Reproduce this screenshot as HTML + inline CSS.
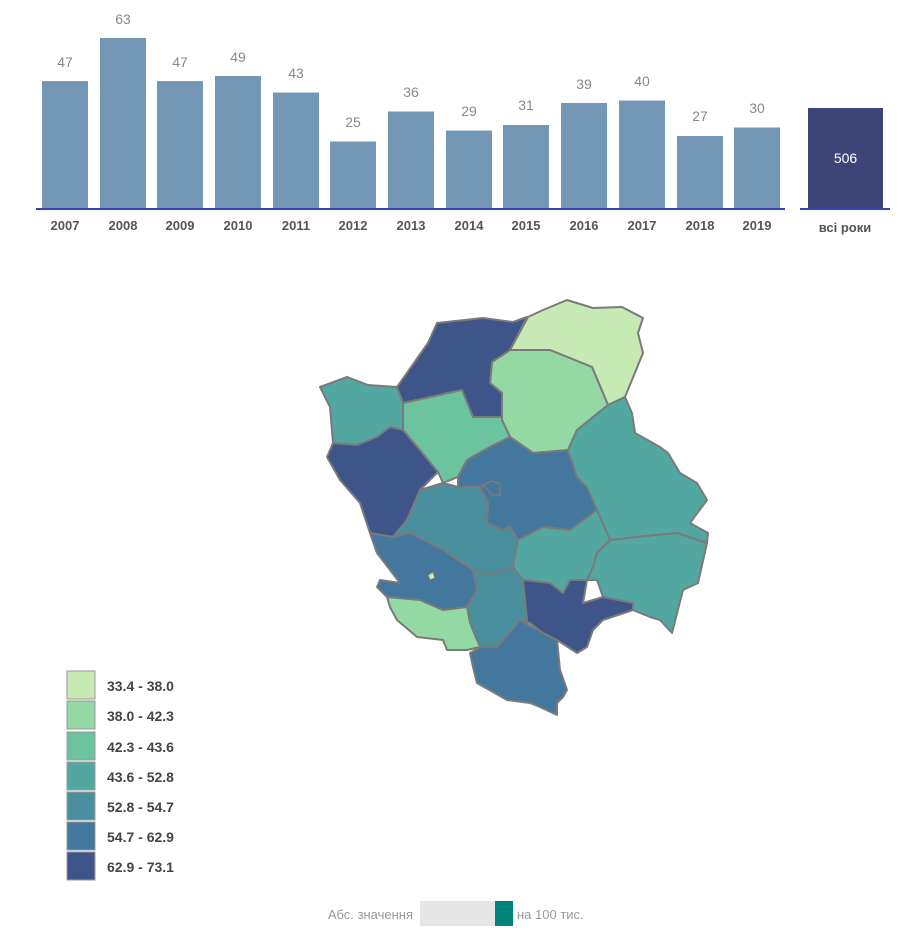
<!DOCTYPE html>
<html><head><meta charset="utf-8"><style>
body{margin:0;background:#fff;width:917px;height:930px;overflow:hidden;font-family:"Liberation Sans",sans-serif}
</style></head><body>
<svg width="917" height="930" xmlns="http://www.w3.org/2000/svg" style="position:absolute;left:0;top:0">
<g fill="#7496b5">
<rect x="42" y="81.1" width="46" height="127.9"/>
<rect x="100" y="38" width="46" height="171"/>
<rect x="157" y="81.1" width="46" height="127.9"/>
<rect x="215" y="76" width="46" height="133"/>
<rect x="273" y="92.5" width="46" height="116.5"/>
<rect x="330" y="141.5" width="46" height="67.5"/>
<rect x="388" y="111.5" width="46" height="97.5"/>
<rect x="446" y="130.5" width="46" height="78.5"/>
<rect x="503" y="125" width="46" height="84"/>
<rect x="561" y="103" width="46" height="106"/>
<rect x="619" y="100.5" width="46" height="108.5"/>
<rect x="677" y="136" width="46" height="73"/>
<rect x="734" y="127.5" width="46" height="81.5"/>
</g>
<rect x="808" y="108" width="75" height="101" fill="#3d4478"/>
<text x="845.5" y="163" fill="#fff" font-size="14" text-anchor="middle">506</text>
<line x1="36" y1="209" x2="785" y2="209" stroke="#3646b0" stroke-width="2"/>
<line x1="800" y1="209" x2="890" y2="209" stroke="#3646b0" stroke-width="2"/>
<g fill="#888" font-size="14" text-anchor="middle">
<text x="65" y="67">47</text><text x="123" y="24">63</text><text x="180" y="67">47</text><text x="238" y="62">49</text><text x="296" y="78">43</text><text x="353" y="127">25</text><text x="411" y="97">36</text><text x="469" y="116">29</text><text x="526" y="110">31</text><text x="584" y="89">39</text><text x="642" y="86">40</text><text x="700" y="121">27</text><text x="757" y="113">30</text>
</g>
<g fill="#555" font-size="13" font-weight="bold" text-anchor="middle">
<text x="65" y="230">2007</text><text x="123" y="230">2008</text><text x="180" y="230">2009</text><text x="238" y="230">2010</text><text x="296" y="230">2011</text><text x="353" y="230">2012</text><text x="411" y="230">2013</text><text x="469" y="230">2014</text><text x="526" y="230">2015</text><text x="584" y="230">2016</text><text x="642" y="230">2017</text><text x="700" y="230">2018</text><text x="757" y="230">2019</text>
<text x="845" y="232">всі роки</text>
</g>
<g stroke="#7a7a7a" stroke-width="2" stroke-linejoin="round">
<polygon fill="#c7eab4" points="528,317 543,310 567,300 593,308 622,307 643,318 638,333 643,353 625,397 608,405 592,367 550,350 530,350 510,350"/>
<polygon fill="#94d8a3" points="510,350 530,350 550,350 592,367 608,405 577,430 568,450 533,453 510,437 502,420 502,393 490,383 492,362"/>
<polygon fill="#3d5589" points="437,323 483,318 513,322 527,317 510,350 492,362 490,383 502,393 502,417 473,417 462,390 403,403 397,387 428,343"/>
<polygon fill="#52a8a1" points="320,387 347,377 368,385 397,387 403,403 403,430 390,427 377,437 357,445 333,443 330,407"/>
<polygon fill="#3d5589" points="333,443 357,445 377,437 390,427 403,430 420,450 438,472 420,490 407,520 393,537 370,533 360,503 340,480 327,457"/>
<polygon fill="#6cc3a0" points="403,403 462,390 473,417 502,417 502,420 510,437 490,447 467,460 458,477 443,483 438,472 420,450 403,430"/>
<polygon fill="#43779d" points="490,447 510,437 533,453 568,450 577,477 587,487 597,510 570,530 543,527 518,540 510,527 502,530 487,523 488,503 480,487 458,487 458,477 467,460"/>
<polygon fill="#4a8f9e" points="443,483 458,487 480,487 488,503 487,523 502,530 510,527 518,540 513,567 492,575 473,570 443,550 410,533 393,537 407,520 420,490"/>
<polygon fill="#52a8a1" points="608,405 625,397 632,413 635,433 660,447 668,453 680,473 697,483 707,500 690,523 708,533 707,543 677,533 637,537 610,540 597,510 587,487 577,477 568,450 577,430"/>
<polygon fill="#52a8a1" points="610,540 637,537 677,533 707,543 698,583 683,590 672,633 660,620 650,617 633,610 633,603 603,597 597,580 587,580 593,567 597,553"/>
<polygon fill="#52a8a1" points="513,567 518,540 543,527 570,530 597,510 610,540 597,553 593,567 587,580 577,583 563,593 550,583 523,580"/>
<polygon fill="#3d5589" points="523,580 550,583 563,593 570,580 587,580 583,603 603,597 633,603 633,610 603,620 593,630 587,647 577,653 557,640 543,633 530,623 520,620"/>
<polygon fill="#43779d" points="470,653 480,647 497,647 520,620 543,633 557,640 560,670 567,690 563,697 557,703 557,715 540,707 530,703 507,700 477,683 473,667"/>
<polygon fill="#4a8f9e" points="473,570 492,575 513,567 523,580 527,620 520,620 497,647 480,647 470,623 467,607 477,590"/>
<polygon fill="#43779d" points="370,533 393,537 410,533 443,550 473,570 477,590 467,607 443,610 420,600 387,597 377,587 380,580 400,583 377,553"/>
<polygon fill="#94d8a3" points="387,597 420,600 443,610 467,607 470,623 480,647 467,650 447,650 443,640 417,637 397,620 390,607"/>
<polygon fill="#43779d" points="482,485 492,481 500,484 500,495 492,495 488,490" stroke-width="1.5"/>
<polygon fill="#c7eab4" points="428,575 433,572 435,578 430,580" stroke-width="1"/>
</g>
<g font-size="14" font-weight="bold" fill="#444">
<rect x="67" y="671" width="28" height="28" fill="#c7eab4" stroke="#999"/><text x="107" y="691">33.4 - 38.0</text>
<rect x="67" y="701" width="28" height="28" fill="#94d8a3" stroke="#999"/><text x="107" y="721">38.0 - 42.3</text>
<rect x="67" y="732" width="28" height="28" fill="#6cc3a0" stroke="#999"/><text x="107" y="752">42.3 - 43.6</text>
<rect x="67" y="762" width="28" height="28" fill="#52a8a1" stroke="#999"/><text x="107" y="782">43.6 - 52.8</text>
<rect x="67" y="792" width="28" height="28" fill="#4a8f9e" stroke="#999"/><text x="107" y="812">52.8 - 54.7</text>
<rect x="67" y="822" width="28" height="28" fill="#43779d" stroke="#999"/><text x="107" y="842">54.7 - 62.9</text>
<rect x="67" y="852" width="28" height="28" fill="#3d5589" stroke="#999"/><text x="107" y="872">62.9 - 73.1</text>
</g>
<text x="413" y="919" font-size="13" fill="#999" text-anchor="end">Абс. значення</text>
<rect x="420" y="901" width="93" height="25" fill="#e6e6e6"/>
<rect x="495" y="901" width="18" height="25" fill="#00837b"/>
<text x="517" y="919" font-size="13" fill="#999">на 100 тис.</text>
</svg>
</body></html>
